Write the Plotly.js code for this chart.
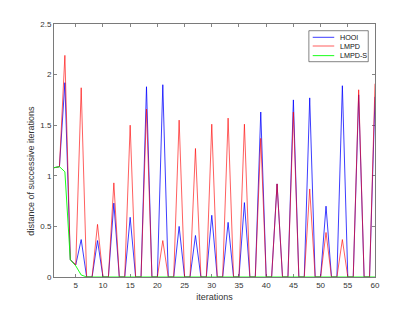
<!DOCTYPE html>
<html>
<head>
<meta charset="utf-8">
<script src="https://cdn.plot.ly/plotly-3.0.1.min.js"></script>
<style>
html,body{margin:0;padding:0;background:#fff;}
#chart{width:415px;height:312px;}
</style>
</head>
<body>
<div id="chart"></div>
<script>
const iterations = Array.from({length: 60}, (_, i) => i + 1);

const hooi = [1.08,1.09,1.92,0.17,0.12,0.37,0,0,0.36,0,
              0,0.73,0,0,0.59,0,0,1.88,0,0,
              1.90,0,0,0.50,0,0,0.41,0,0,0.61,
              0,0,0.54,0,0,0.735,0,0,1.63,0,
              0,0.92,0,0,1.75,0,0,1.77,0,0,
              0.70,0,0,1.89,0,0,1.80,0,0,1.78];

const lmpd = [1.08,1.09,2.19,0.17,0.12,1.87,0,0,0.52,0,
              0,0.93,0,0,1.50,0,0,1.66,0,0,
              0.36,0,0,1.55,0,0,1.27,0,0,1.51,
              0,0,1.57,0,0,1.51,0,0,1.37,0,
              0,0.92,0,0,1.63,0,0,0.87,0,0,
              0.44,0,0,0.37,0,0,1.85,0,0,1.91];

const lmpdS = [1.08,1.09,1.04,0.17,0.11,0.02,0,0,0,0,
               0,0,0,0,0,0,0,0,0,0,
               0,0,0,0,0,0,0,0,0,0,
               0,0,0,0,0,0,0,0,0,0,
               0,0,0,0,0,0,0,0,0,0,
               0,0,0,0,0,0,0,0,0,0];

const seriesNames = ['HOOI', 'LMPD', 'LMPD-S'];
const seriesColors = ['#0000ff', '#ff0000', '#00ff00'];
const seriesValues = [hooi, lmpd, lmpdS];
const seriesOpacity = [0.85, 0.7, 1];

const xTicks = [5,10,15,20,25,30,35,40,45,50,55,60];
const yTicks = [0,0.5,1,1.5,2,2.5];
const yTickText = ['0','0.5','1','1.5','2','2.5'];

const traces = seriesValues.map((vals, k) => ({
  x: iterations,
  y: vals,
  type: 'scatter',
  mode: 'lines',
  name: seriesNames[k],
  line: {color: seriesColors[k], width: 0.9},
  opacity: seriesOpacity[k],
  showlegend: false
}));

const font = {family: 'Liberation Sans, Arial, Helvetica, sans-serif', color: '#333333'};

// legend drawn with shapes/annotations (MATLAB-style compact legend)
const legX0 = 0.794, legX1 = 0.979, legY0 = 0.851, legY1 = 0.9735;
const entryY = [0.9474, 0.913, 0.875];
const shapes = [{
  type: 'rect', xref: 'paper', yref: 'paper',
  x0: legX0, x1: legX1, y0: legY0, y1: legY1,
  line: {color: '#333333', width: 0.6}, fillcolor: '#ffffff', layer: 'above'
}];
const annotations = [];
seriesNames.forEach((nm, k) => {
  shapes.push({
    type: 'line', xref: 'paper', yref: 'paper',
    x0: 0.806, x1: 0.873, y0: entryY[k], y1: entryY[k],
    line: {color: seriesColors[k], width: 0.9}, opacity: seriesOpacity[k], layer: 'above'
  });
  annotations.push({
    xref: 'paper', yref: 'paper', x: 0.884, y: entryY[k],
    xanchor: 'left', yanchor: 'middle', showarrow: false,
    text: nm, font: Object.assign({}, font, {size: 7.2, color: '#111111'})
  });
});
annotations.push({
  xref: 'paper', yref: 'paper', x: -0.072, y: 0.42,
  xanchor: 'center', yanchor: 'middle', showarrow: false, textangle: -90,
  text: 'distance of successive iterations', font: Object.assign({}, font, {size: 9})
});

const layout = {
  width: 415, height: 312,
  margin: {l: 54, r: 40, t: 24, b: 35, pad: 0},
  paper_bgcolor: '#ffffff', plot_bgcolor: '#ffffff',
  font: font,
  showlegend: false,
  xaxis: {
    range: [1, 60], tickvals: xTicks, ticks: 'inside', ticklen: 3, tickcolor: '#333333',
    tickwidth: 0.6, showline: true, linecolor: '#7a7a7a', linewidth: 1, mirror: 'ticks',
    showgrid: false, zeroline: false, layer: 'below traces',
    tickfont: Object.assign({}, font, {size: 8}),
    title: {text: 'iterations', font: Object.assign({}, font, {size: 9}), standoff: 5}
  },
  yaxis: {
    range: [0, 2.5], tickvals: yTicks, ticktext: yTickText, ticks: 'inside', ticklen: 3,
    tickcolor: '#333333', tickwidth: 0.6, showline: true, linecolor: '#7a7a7a', linewidth: 1,
    mirror: 'ticks', showgrid: false, zeroline: false, layer: 'below traces',
    tickfont: Object.assign({}, font, {size: 8})
  },
  shapes: shapes,
  annotations: annotations
};

Plotly.newPlot('chart', traces, layout, {staticPlot: true, displayModeBar: false});
</script>
</body>
</html>
